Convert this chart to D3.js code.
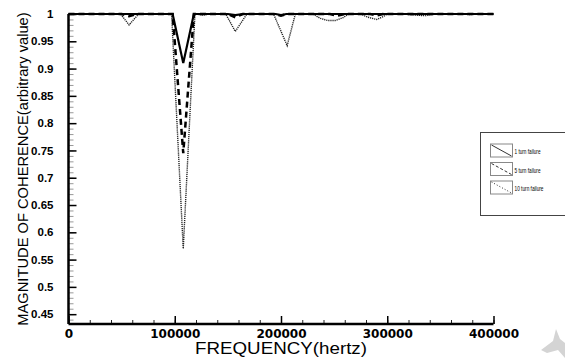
<!DOCTYPE html>
<html>
<head>
<meta charset="utf-8">
<script src="https://cdn.jsdelivr.net/npm/d3@7"></script>
<style>
  body { margin: 0; background: #fff; }
  svg { display: block; }
</style>
</head>
<body>
<svg id="chart" width="565" height="358"></svg>
<script>
// frequency (hertz) / coherence pairs
var oneTurn = [
  [0, 1], [98000, 1], [108000, 0.91], [118000, 1],
  [150000, 1], [157000, 0.998], [164000, 1],
  [195000, 1], [200000, 0.998], [205000, 1], [400000, 1]
];
var fiveTurn = [
  [0, 1], [50000, 1], [57000, 0.996], [64000, 1],
  [98000, 1], [108000, 0.745], [118000, 1],
  [150000, 1], [157000, 0.994], [164000, 1],
  [194000, 1], [200000, 0.997], [206000, 1],
  [246000, 1], [253000, 0.997], [260000, 1],
  [284000, 1], [290000, 0.997], [296000, 1], [400000, 1]
];
var tenTurn = [
  [0, 1], [49000, 1], [57000, 0.98], [66000, 1],
  [97000, 1], [108000, 0.57], [119000, 1],
  [126000, 0.998], [134000, 1],
  [148000, 1], [157000, 0.968], [168000, 1],
  [193000, 1], [205800, 0.942], [213500, 1],
  [230000, 1], [237000, 0.992], [244000, 0.988], [251000, 0.988], [258000, 0.993], [264000, 1],
  [275000, 1], [282000, 0.994], [290000, 0.99], [296000, 0.995], [300000, 1],
  [316000, 1], [324000, 0.998], [336000, 0.997], [346000, 1],
  [369000, 1], [378000, 0.999], [386000, 1], [400000, 1]
];
var seriesNames = ["1 turn failure", "5 turn failure", "10 turn failure"];
var xTicks = [0, 100000, 200000, 300000, 400000];
var yTicks = [0.45, 0.5, 0.55, 0.6, 0.65, 0.7, 0.75, 0.8, 0.85, 0.9, 0.95, 1];

var svg = d3.select("#chart");
var marginLeft = 68.5, marginTop = 14, w = 425, h = 310;

var x = d3.scaleLinear().domain([0, 400000]).range([0, w]);
var y = d3.scaleLinear().domain([0.432, 1]).range([h, 0]);

var g = svg.append("g").attr("transform", "translate(" + marginLeft + "," + marginTop + ")");

// minor ticks first
var yMinor = d3.range(44, 101).map(function(d) { return d / 100; });
g.append("g")
    .call(d3.axisLeft(y).tickValues(yMinor).tickSize(-5).tickFormat(""))
    .call(function(a) { a.select(".domain").remove(); a.selectAll("line").attr("stroke", "#999"); });
var xMinor = d3.range(0, 400001, 20000);
g.append("g").attr("transform", "translate(0," + h + ")")
    .call(d3.axisBottom(x).tickValues(xMinor).tickSize(-4).tickFormat(""))
    .call(function(a) { a.select(".domain").remove(); a.selectAll("line").attr("stroke", "#222"); });

// the curves
var line = d3.line().x(function(d) { return x(d[0]); }).y(function(d) { return y(d[1]); });
g.append("path").datum(tenTurn).attr("d", line)
    .attr("fill", "none").attr("stroke", "#222").attr("stroke-width", 1.4)
    .attr("stroke-dasharray", "1.2,0.9");
g.append("path").datum(fiveTurn).attr("d", line)
    .attr("fill", "none").attr("stroke", "#000").attr("stroke-width", 2.5)
    .attr("stroke-dasharray", "6,4");
g.append("path").datum(oneTurn).attr("d", line)
    .attr("fill", "none").attr("stroke", "#000").attr("stroke-width", 2.2);

// axes
var yAxis = g.append("g")
    .call(d3.axisLeft(y).tickValues(yTicks).tickSize(-8).tickPadding(15).tickFormat(d3.format("")));
yAxis.select(".domain").attr("stroke-width", 2.5).attr("d", "M0," + h + "V0");
yAxis.selectAll("line").attr("stroke-width", 1.5);
yAxis.selectAll("text").style("font-family", "'Liberation Sans', Arial, sans-serif")
    .style("font-size", "11.5px").style("font-weight", "bold").attr("fill", "#000");

var xAxis = g.append("g").attr("transform", "translate(0," + h + ")")
    .call(d3.axisBottom(x).tickValues(xTicks).tickSize(-8).tickPadding(5).tickFormat(d3.format("d")));
xAxis.select(".domain").attr("stroke-width", 2.5).attr("d", "M0,0H" + w);
xAxis.selectAll("line").attr("stroke-width", 1.5);
xAxis.selectAll("text").style("font-family", "'DejaVu Sans', sans-serif")
    .style("font-size", "12px").style("font-weight", "bold").attr("fill", "#000");

// axis titles
svg.append("text")
    .attr("x", marginLeft + w / 2).attr("y", 354)
    .attr("text-anchor", "middle")
    .attr("textLength", 172).attr("lengthAdjust", "spacingAndGlyphs")
    .style("font-family", "'Liberation Sans', Arial, sans-serif").style("font-size", "16.5px")
    .text("FREQUENCY(hertz)");
svg.append("text")
    .attr("transform", "translate(28," + (marginTop + h / 2) + ") rotate(-90)")
    .attr("text-anchor", "middle")
    .style("font-family", "'Liberation Sans', Arial, sans-serif").style("font-size", "14.7px")
    .text("MAGNITUDE OF COHERENCE(arbitrary value)");

// legend
var legend = svg.append("g").attr("transform", "translate(480.5,132.5)");
legend.append("rect").attr("width", 100).attr("height", 83)
    .attr("fill", "#fff").attr("stroke", "#444").attr("stroke-width", 1);
var dashes = [null, "3,2", "1,2"];
var item = legend.selectAll("g.item").data(seriesNames).enter().append("g")
    .attr("class", "item")
    .attr("transform", function(d, i) { return "translate(10," + (11.5 + i * 18.5) + ")"; });
item.append("rect").attr("width", 22).attr("height", 13)
    .attr("fill", "#fff").attr("stroke", "#888").attr("stroke-width", 1);
item.append("line").attr("x1", 1).attr("y1", 1).attr("x2", 21).attr("y2", 12)
    .attr("stroke", "#333").attr("stroke-width", 1)
    .attr("stroke-dasharray", function(d, i) { return dashes[i]; });
item.append("text").attr("x", 24).attr("y", 10)
    .attr("textLength", function(d, i) { return i == 2 ? 29 : 26; }).attr("lengthAdjust", "spacingAndGlyphs")
    .style("font-family", "'Liberation Sans Narrow', 'Liberation Sans', sans-serif").style("font-size", "8px")
    .text(function(d) { return d; });

// faint mark in the lower right corner of the scan
svg.append("path")
    .attr("d", "M541,350 L553,341 L556,329 L560,339 L565,343 L565,358 L558,350 L547,353 Z")
    .attr("fill", "#d4d4d4");
</script>
</body>
</html>
